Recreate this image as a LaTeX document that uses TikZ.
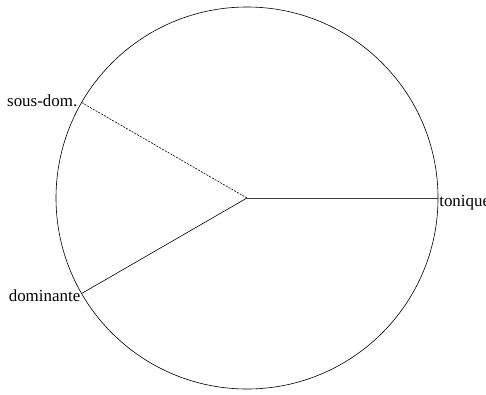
\documentclass[tikz,border=0pt]{standalone}
\usepackage{fontspec}
\setmainfont{Liberation Serif}
\usetikzlibrary{calc}

\begin{document}
\begin{tikzpicture}[x=1bp, y=1bp, line width=0.6bp,
    lbl/.style={inner sep=0pt, font=\fontsize{17}{20}\selectfont}]
    \useasboundingbox (0,0) rectangle (486,394);
    \coordinate (c) at (247,196);
    \draw (c) circle[radius=191];
    \coordinate (ton) at ($(c)+(0:191)$);
    \coordinate (sd)  at ($(c)+(150:191)$);
    \coordinate (dom) at ($(c)+(210:191)$);
    \draw[black!75] (c) -- (ton);
    \draw[dash pattern=on 2bp off 1.2bp] (c) -- (sd);
    \draw (c) -- (dom);
    \node[lbl, anchor=base west] (ltonique) at ($(ton)+(1,-8)$) {tonique};
    \node[lbl, anchor=base east] (lsd) at ($(sd)+(-4,-4)$) {sous-dom.};
    \node[lbl, anchor=base east] (ldom) at ($(dom)+(-1,-8)$) {dominante};
  \end{tikzpicture}
\end{document}
